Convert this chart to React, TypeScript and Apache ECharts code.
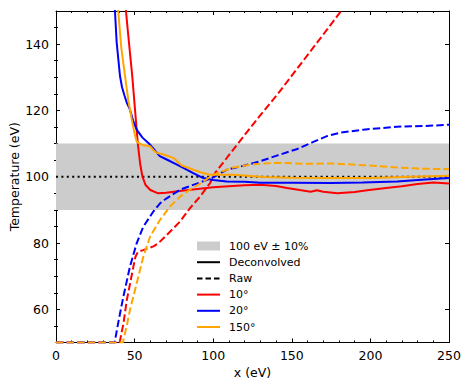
import React, { useEffect, useRef } from "react";
import * as echarts from "echarts";

// ---- data ----
const decon10X = [44, 44.5, 46, 48.5, 50.3, 52, 53.5, 55, 57, 60, 65, 70, 80, 90, 100, 110, 120, 130, 140, 147, 155, 162, 166, 170, 179, 190, 198, 210, 220, 230, 240, 250];
const decon10T = [153, 150, 142.5, 130.4, 120, 110.2, 104, 100, 97.5, 96, 95, 95.2, 95.8, 96.3, 96.8, 97.1, 97.4, 97.6, 97.2, 96.6, 96, 95.5, 95.9, 95.5, 95.0, 95.4, 95.9, 96.6, 97.1, 97.8, 98.3, 98.0];

const decon20X = [36.8, 37.5, 38.6, 40.7, 42, 43.5, 45, 47, 49, 51.3, 55, 59.8, 66, 70.4, 76, 81, 87.3, 93.7, 100, 108.6, 120, 130, 150, 175, 195, 217, 235, 250];
const decon20T = [153, 150, 140.5, 130.4, 127, 124.6, 122.4, 120.3, 117, 114.2, 111.8, 109.7, 106.2, 105.2, 103.9, 102.7, 101.1, 99.6, 99.0, 98.6, 98.5, 98.2, 98.2, 98.1, 98.3, 98.6, 99.2, 99.6];

const decon150X = [39, 39.6, 41.5, 43.9, 46, 48.2, 50, 51.3, 52.4, 55, 59.8, 62, 64, 68, 74.6, 80, 87.3, 93, 98, 112.8, 131.9, 150, 174, 200, 225, 250];
const decon150T = [153, 150, 139, 130.4, 123, 117.3, 113, 110.7, 110.2, 109.6, 109.2, 108, 107.2, 106.8, 105.7, 103.4, 102.1, 101.2, 100.6, 100.6, 99.9, 99.7, 99.6, 99.6, 100, 100.3];

const raw10X = [0, 40.5, 43, 45, 47, 49.2, 50.5, 52, 55, 58.7, 62, 65, 70.4, 78.9, 85.2, 91.6, 98, 101.1, 110, 120, 130, 140.8, 150, 160, 170, 180.7, 186];
const raw10T = [50, 50, 56, 62.7, 67.5, 72.8, 75.8, 77.3, 77.8, 78.4, 79, 79.9, 82.4, 86.5, 90.5, 94, 98.1, 101.1, 106.5, 112.6, 118.6, 124.8, 130.5, 136.7, 142.9, 149.6, 153];

const raw20X = [0, 37.3, 40, 42.8, 47, 51.3, 55.5, 61.9, 66.2, 70.4, 78.9, 91.6, 100, 108.6, 120, 130, 140, 153, 163.7, 172, 180.7, 195.5, 216.7, 235, 250];
const raw20T = [50, 50, 57, 63.7, 72.8, 79.9, 84.9, 89.5, 92, 93.5, 96.1, 98.3, 99.8, 102.1, 103.4, 104.7, 106.3, 108.3, 110.5, 112.2, 113.3, 114.2, 115.1, 115.3, 115.7];

const raw150X = [0, 42.5, 45, 47, 51.3, 55.5, 59.8, 66.2, 72.5, 78.9, 85.2, 91.6, 100, 112.8, 125, 140, 160, 175, 195.5, 216.7, 235, 250];
const raw150T = [50, 50, 55, 59.7, 67.8, 75.8, 81.9, 87, 91, 94, 96.1, 97.9, 100.6, 102.8, 103.8, 104.2, 103.9, 104, 103.5, 102.8, 102.4, 102.3];

const refX = [0, 250];
const refT = [100, 100];
const band = [90, 110];

const yMajorTicks = [60, 80, 100, 120, 140];
const yMinorTicks = [55, 65, 70, 75, 85, 90, 95, 105, 110, 115, 125, 130, 135, 145];

const legendLabels = ["100 eV ± 10%", "Deconvolved", "Raw", "10°", "20°", "150°"];

// ---- styles ----
const FONT = "DejaVu Sans";
const RED = "#ff0000";
const BLUE = "#0000ff";
const ORANGE = "#ffa500";
const GRAY = "#cccccc";
const DASH = [7.4, 3.2];
const DOT = [2, 3.4];

const pairs = (xs: number[], ys: number[]) => xs.map((x, i) => [x, ys[i]]);

const lineSeries = (name: string, xs: number[], ys: number[], color: string, dashed: boolean) => ({
  name,
  type: "line",
  data: pairs(xs, ys),
  symbol: "none",
  showSymbol: false,
  smooth: false,
  clip: true,
  lineStyle: { color, width: 2, type: dashed ? DASH : "solid", cap: "butt" },
  z: 3,
});

export default function App() {
  const ref = useRef<HTMLDivElement>(null);
  useEffect(() => {
    if (!ref.current) return;
    const chart = echarts.init(ref.current, undefined, { renderer: "svg" });
    const axisLine = { show: true, onZero: false, lineStyle: { color: "#000", width: 1 } };
    const tickStyle = { color: "#000", width: 1 };
    const labelStyle = { color: "#000", fontSize: 12.5, fontFamily: FONT };
    const nameStyle = { color: "#000", fontSize: 12.5, fontFamily: FONT };

    const legendRowY = (i: number) => 246 + i * 16.2;
    const legendColors = ["#000", "#000", RED, BLUE, ORANGE];
    const graphic: any[] = [];
    graphic.push({
      type: "rect",
      shape: { x: 197, y: legendRowY(0) - 4.5, width: 23, height: 9 },
      style: { fill: GRAY },
      silent: true,
    });
    for (let i = 1; i < 6; i++) {
      graphic.push({
        type: "line",
        shape: { x1: 197, y1: legendRowY(i), x2: 220, y2: legendRowY(i) },
        style: {
          stroke: legendColors[i - 1],
          lineWidth: 2,
          lineDash: i === 2 ? [5.5, 3] : null,
        },
        silent: true,
      });
    }
    legendLabels.forEach((t, i) => {
      graphic.push({
        type: "text",
        x: 229,
        y: legendRowY(i),
        style: { text: t, fill: "#000", font: `11px "${FONT}"`, verticalAlign: "middle", align: "left" },
        silent: true,
      });
    });

    chart.setOption({
      animation: false,
      backgroundColor: "#fff",
      textStyle: { fontFamily: FONT },
      grid: { left: 56, top: 11, width: 393, height: 331.5, containLabel: false, outerBoundsMode: "none" },
      xAxis: [
        {
          type: "value", min: 0, max: 250, interval: 50, position: "bottom",
          axisLine, axisTick: { show: true, inside: true, length: 4, lineStyle: tickStyle },
          minorTick: { show: true, splitNumber: 5, length: 2, lineStyle: tickStyle },
          splitLine: { show: false }, minorSplitLine: { show: false },
          axisLabel: { ...labelStyle, margin: 6 },
          name: "x (eV)", nameLocation: "middle", nameGap: 23.5, nameMoveOverlap: false, nameTextStyle: nameStyle,
        },
        {
          type: "value", min: 0, max: 250, interval: 50, position: "top",
          axisLine, axisTick: { show: true, inside: true, length: 4, lineStyle: tickStyle },
          minorTick: { show: true, splitNumber: 5, length: 2, lineStyle: tickStyle },
          splitLine: { show: false }, axisLabel: { show: false },
        },
      ],
      yAxis: [
        {
          type: "value", min: 50, max: 150, position: "left",
          axisLine,
          axisTick: { show: true, inside: true, length: 4, lineStyle: tickStyle, customValues: yMajorTicks },
          axisLabel: { ...labelStyle, margin: 7, customValues: yMajorTicks },
          splitLine: { show: false },
          name: "Temperature (eV)", nameLocation: "middle", nameGap: 35.5, nameMoveOverlap: false, nameTextStyle: nameStyle,
        },
        {
          type: "value", min: 50, max: 150, position: "left",
          axisLine: { show: false },
          axisTick: { show: true, inside: true, length: 2, lineStyle: tickStyle, customValues: yMinorTicks },
          axisLabel: { show: false }, splitLine: { show: false },
        },
        {
          type: "value", min: 50, max: 150, position: "right",
          axisLine,
          axisTick: { show: true, inside: true, length: 4, lineStyle: tickStyle, customValues: yMajorTicks },
          axisLabel: { show: false }, splitLine: { show: false },
        },
        {
          type: "value", min: 50, max: 150, position: "right",
          axisLine: { show: false },
          axisTick: { show: true, inside: true, length: 2, lineStyle: tickStyle, customValues: yMinorTicks },
          axisLabel: { show: false }, splitLine: { show: false },
        },
      ],
      graphic,
      series: [
        {
          name: "band",
          type: "line",
          data: [],
          z: 1,
          markArea: {
            silent: true,
            itemStyle: { color: GRAY, opacity: 1 },
            data: [[{ yAxis: band[0] }, { yAxis: band[1] }]],
          },
        },
        {
          name: "ref",
          type: "line",
          data: pairs(refX, refT),
          symbol: "none",
          z: 2,
          lineStyle: { color: "#000", width: 2, type: DOT, cap: "butt" },
        },
        lineSeries("Deconvolved 10°", decon10X, decon10T, RED, false),
        lineSeries("Raw 10°", raw10X, raw10T, RED, true),
        lineSeries("Deconvolved 20°", decon20X, decon20T, BLUE, false),
        lineSeries("Raw 20°", raw20X, raw20T, BLUE, true),
        lineSeries("Deconvolved 150°", decon150X, decon150T, ORANGE, false),
        lineSeries("Raw 150°", raw150X, raw150T, ORANGE, true),
      ],
    });
    return () => chart.dispose();
  }, []);
  return (
    <div
      ref={ref}
      style={{ position: "fixed", left: 0, top: 0, width: 468, height: 388, background: "#fff" }}
    />
  );
}
